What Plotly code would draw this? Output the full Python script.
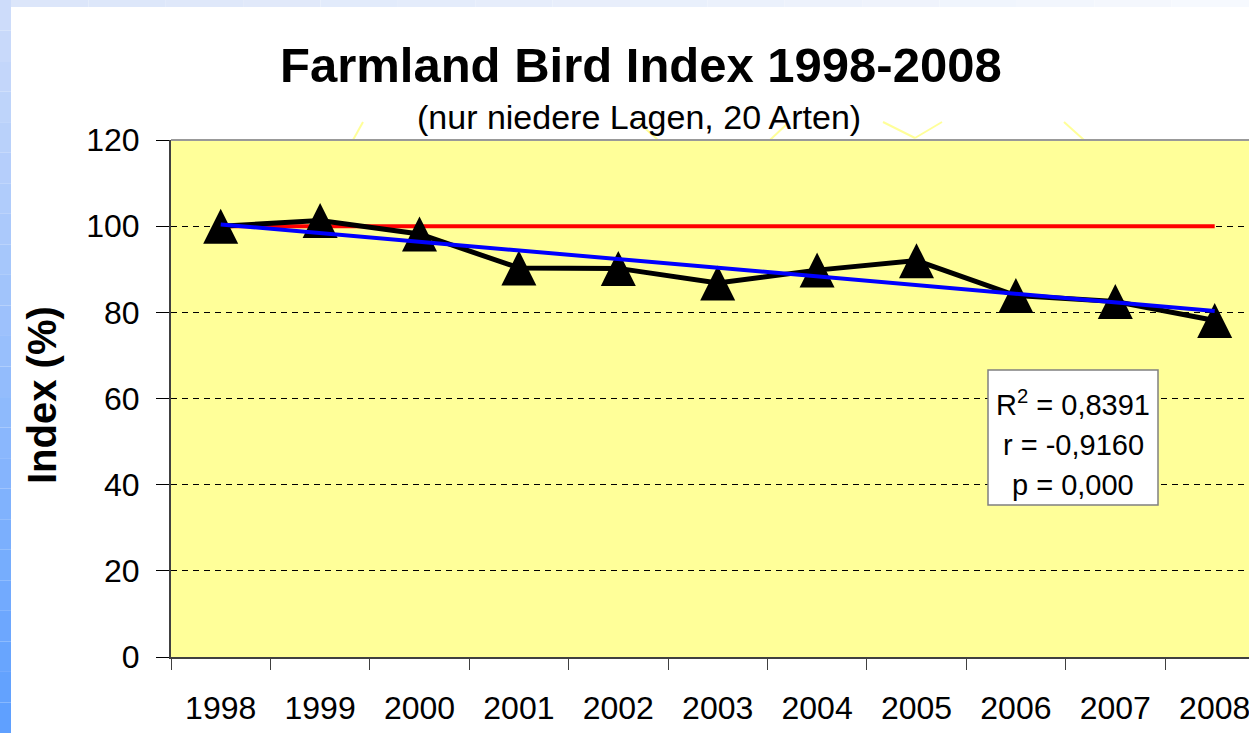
import plotly.graph_objects as go

years = ["1998", "1999", "2000", "2001", "2002", "2003", "2004", "2005", "2006", "2007", "2008"]
index_values = [100, 101.3, 98.2, 90.3, 90.2, 86.8, 89.8, 92.0, 83.9, 82.5, 78.1]
baseline_years = ["1998", "2008"]
baseline_values = [100, 100]
trend_years = ["1998", "2008"]
trend_values = [100.4, 80.3]
y_ticks = [0, 20, 40, 60, 80, 100, 120]
stats_lines = ["R<sup>2</sup> = 0,8391", "r = -0,9160", "p = 0,000"]

FONT = "Arial, Liberation Sans, sans-serif"
W, H = 1249, 733
L, R, T, B = 171, 0, 140, 76
PW, PH = W - L - R, H - T - B
Y_RANGE = [0, 120]
UNITS_PER_PX = (Y_RANGE[1] - Y_RANGE[0]) / PH
TRI = 35  # marker size in px (arrow-up: width = height = size)
TRI_SHIFT = TRI / 2 * UNITS_PER_PX  # centre the triangle on its value


def px(x):
    return (x - L) / PW


def py(y):
    return (H - B - y) / PH


fig = go.Figure()
fig.add_trace(go.Scatter(x=baseline_years, y=baseline_values, mode="lines",
                         line=dict(color="#FF0000", width=4), hoverinfo="skip"))
fig.add_trace(go.Scatter(x=years, y=index_values, mode="lines",
                         line=dict(color="#000000", width=5)))
fig.add_trace(go.Scatter(x=years, y=index_values, mode="markers", yaxis="y2",
                         marker=dict(symbol="arrow-up", size=TRI, color="#000000",
                                     line=dict(width=0))))
fig.add_trace(go.Scatter(x=trend_years, y=trend_values, mode="lines", yaxis="y3",
                         line=dict(color="#0000FF", width=4), hoverinfo="skip"))

shapes = []
# left blue strip (gradient approximation)
n = 24
c0 = (205, 220, 250)
c1 = (95, 160, 255)
for i in range(n):
    t = i / (n - 1)
    col = "rgb(%d,%d,%d)" % tuple(int(a + (b - a) * t) for a, b in zip(c0, c1))
    shapes.append(dict(type="rect", xref="paper", yref="paper",
                       x0=px(0), x1=px(11), y0=py(H * (i + 1) / n), y1=py(H * i / n),
                       fillcolor=col, line=dict(width=0), layer="below"))
# top strip
m = 16
d0 = (220, 230, 250)
d1 = (246, 249, 254)
for i in range(m):
    t = i / (m - 1)
    col = "rgb(%d,%d,%d)" % tuple(int(a + (b - a) * t) for a, b in zip(d0, d1))
    shapes.append(dict(type="rect", xref="paper", yref="paper",
                       x0=px(11 + (W - 11) * i / m), x1=px(11 + (W - 11) * (i + 1) / m),
                       y0=py(7), y1=py(0), fillcolor=col, line=dict(width=0), layer="below"))
# faint yellow strokes above the plot
for seg in [((363, 122), (353, 140)), ((638, 122), (658, 140)), ((788, 123), (770, 140)),
            ((883, 122), (915, 138)), ((915, 138), (942, 122)), ((1064, 122), (1084, 140))]:
    (xa, ya), (xb, yb) = seg
    shapes.append(dict(type="line", xref="paper", yref="paper",
                       x0=px(xa), y0=py(ya), x1=px(xb), y1=py(yb),
                       line=dict(color="#FFFF99", width=2)))
# top border of the plot area
shapes.append(dict(type="line", xref="paper", yref="paper", x0=0, x1=1, y0=1, y1=1,
                   line=dict(color="#999999", width=2)))
# stats box
shapes.append(dict(type="rect", xref="paper", yref="paper",
                   x0=px(988), x1=px(1158), y0=py(505), y1=py(370),
                   fillcolor="#FFFFFF", line=dict(color="#808080", width=1.5), layer="above"))

annotations = [
    dict(text="<b>Farmland Bird Index 1998-2008</b>", xref="paper", yref="paper",
         x=px(641), y=py(65), xanchor="center", yanchor="middle", showarrow=False,
         font=dict(family=FONT, size=49, color="#000000")),
    dict(text="(nur niedere Lagen, 20 Arten)", xref="paper", yref="paper",
         x=px(639), y=py(117), xanchor="center", yanchor="middle", showarrow=False,
         font=dict(family=FONT, size=34, color="#000000")),
    dict(text="<b>Index (%)</b>", xref="paper", yref="paper", textangle=-90,
         x=px(42), y=py(395), xanchor="center", yanchor="middle", showarrow=False,
         font=dict(family=FONT, size=40, color="#000000")),
]
for txt, yy in zip(stats_lines, [403, 445, 485]):
    annotations.append(dict(text=txt, xref="paper", yref="paper", x=px(1073), y=py(yy),
                            xanchor="center", yanchor="middle", showarrow=False,
                            font=dict(family=FONT, size=29, color="#000000")))

fig.update_layout(
    width=W, height=H,
    margin=dict(l=L, r=R, t=T, b=B, pad=0),
    paper_bgcolor="#FFFFFF", plot_bgcolor="#FFFF99",
    showlegend=False,
    font=dict(family=FONT, size=32, color="#000000"),
    shapes=shapes, annotations=annotations,
    xaxis=dict(type="category", categoryorder="array", categoryarray=years,
               range=[-0.5, -0.5 + PW / 99.4], tickson="boundaries",
               ticks="outside", ticklen=11, tickwidth=1, tickcolor="#404040",
               showline=True, linecolor="#404040", linewidth=2, showgrid=False,
               ticklabelstandoff=22,
               tickfont=dict(family=FONT, size=32), fixedrange=True),
    yaxis=dict(range=Y_RANGE, tickvals=y_ticks, ticks="outside", ticklen=13,
               tickwidth=1, tickcolor="#000000", showline=True, linecolor="#404040",
               linewidth=2, showgrid=True, gridcolor="#000000", gridwidth=1,
               griddash="6px,5px", zeroline=False, ticklabelstandoff=10,
               tickfont=dict(family=FONT, size=32), fixedrange=True),
    yaxis2=dict(overlaying="y", range=[Y_RANGE[0] - TRI_SHIFT, Y_RANGE[1] - TRI_SHIFT],
                visible=False, fixedrange=True),
    yaxis3=dict(overlaying="y", range=Y_RANGE, visible=False, fixedrange=True),
)

fig.write_html("out.html", config={"displayModeBar": False},
               post_script="document.body.style.margin='0px';")
